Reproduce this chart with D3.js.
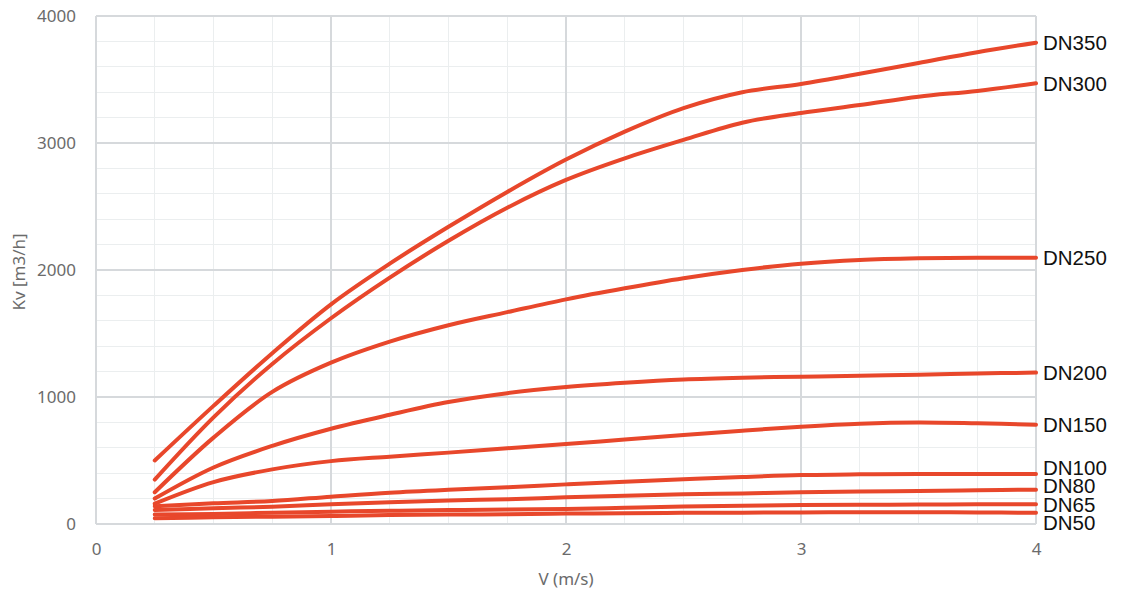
<!DOCTYPE html>
<html>
<head>
<meta charset="utf-8">
<script src="https://cdn.jsdelivr.net/npm/d3@7"></script>
<style>
  html, body { margin: 0; padding: 0; background: #fff; }
  svg { display: block; }
</style>
</head>
<body>
<svg id="chart" width="1121" height="594"></svg>
<script>
// ---- data ----
const velocities = [0.25, 0.5, 0.75, 1, 1.25, 1.5, 1.75, 2, 2.25, 2.5, 2.75, 3, 3.25, 3.5, 3.75, 4];
const seriesNames = ["DN350", "DN300", "DN250", "DN200", "DN150", "DN100", "DN80", "DN65", "DN50"];
const dn350 = [500, 930, 1345, 1730, 2050, 2340, 2615, 2870, 3090, 3275, 3400, 3465, 3545, 3630, 3715, 3790];
const dn300 = [350, 840, 1260, 1620, 1940, 2230, 2490, 2709, 2879, 3024, 3160, 3237, 3299, 3365, 3410, 3470];
const dn250 = [250, 680, 1040, 1270, 1436, 1565, 1668, 1769, 1856, 1935, 2000, 2050, 2079, 2092, 2097, 2097];
const dn200 = [200, 445, 615, 750, 860, 960, 1030, 1078, 1112, 1138, 1152, 1160, 1167, 1176, 1185, 1192];
const dn150 = [160, 330, 430, 495, 530, 562, 596, 630, 665, 700, 735, 766, 790, 800, 793, 782];
const dn100 = [140, 163, 181, 215, 247, 270, 289, 312, 333, 352, 370, 385, 391, 394, 394, 393];
const dn80  = [110, 124, 136, 155, 172, 185, 195, 210, 223, 234, 241, 250, 255, 260, 266, 270];
const dn65  = [75, 79, 89, 97, 104, 110, 114, 118, 127, 137, 144, 150, 152, 153, 155, 155];
const dn50  = [45, 53, 58, 63, 70, 74, 77, 82, 84, 88, 89, 91, 92, 92, 91, 88];
const seriesValues = [dn350, dn300, dn250, dn200, dn150, dn100, dn80, dn65, dn50];
const xTicks = [0, 1, 2, 3, 4];
const yTicks = [0, 1000, 2000, 3000, 4000];
const xTitle = "V (m/s)";
const yTitle = "Kv [m3/h]";

// ---- layout ----
const svg = d3.select("#chart");
const x = d3.scaleLinear().domain([0, 4]).range([96, 1036]);
const y = d3.scaleLinear().domain([0, 4000]).range([524, 16]);
const lineColor = "#E8472B";
const axisFont = "'Noto Sans', 'Open Sans', sans-serif";

// minor grid
const g = svg.append("g");
g.selectAll(".vminor").data(d3.range(0, 4.001, 0.25)).join("line")
  .attr("x1", d => x(d)).attr("x2", d => x(d)).attr("y1", y(0)).attr("y2", y(4000))
  .attr("stroke", "#ebeeef").attr("stroke-width", 1.3).attr("shape-rendering", "crispEdges");
g.selectAll(".hminor").data(d3.range(0, 4001, 200)).join("line")
  .attr("x1", x(0)).attr("x2", x(4)).attr("y1", d => y(d)).attr("y2", d => y(d))
  .attr("stroke", "#ebeeef").attr("stroke-width", 1.3).attr("shape-rendering", "crispEdges");
// major grid
g.selectAll(".vmajor").data(xTicks).join("line")
  .attr("x1", d => x(d)).attr("x2", d => x(d)).attr("y1", y(0)).attr("y2", y(4000))
  .attr("stroke", "#d6d9dc").attr("stroke-width", 1.3).attr("shape-rendering", "crispEdges");
g.selectAll(".hmajor").data(yTicks).join("line")
  .attr("x1", x(0)).attr("x2", x(4)).attr("y1", d => y(d)).attr("y2", d => y(d))
  .attr("stroke", "#d6d9dc").attr("stroke-width", 1.3).attr("shape-rendering", "crispEdges");

// axes (tick labels only)
const xAxis = svg.append("g").attr("transform", `translate(0,${y(0) + 16})`)
  .call(d3.axisBottom(x).tickValues(xTicks).tickSize(0).tickFormat(d3.format("d")));
xAxis.select(".domain").remove();
xAxis.selectAll("text").attr("fill", "#6b6b6b").attr("font-size", 17).attr("font-family", axisFont);

const yAxis = svg.append("g").attr("transform", `translate(${x(0) - 17},0)`)
  .call(d3.axisLeft(y).tickValues(yTicks).tickSize(0).tickFormat(d3.format("d")));
yAxis.select(".domain").remove();
yAxis.selectAll("text").attr("fill", "#6b6b6b").attr("font-size", 17).attr("font-family", axisFont);

// axis titles
svg.append("text").attr("x", (x(0) + x(4)) / 2).attr("y", 585)
  .attr("text-anchor", "middle").attr("fill", "#6b6b6b").attr("font-size", 17)
  .attr("font-family", axisFont).text(xTitle);
svg.append("text").attr("transform", `translate(25,${(y(0) + y(4000)) / 2 + 2}) rotate(-90)`)
  .attr("text-anchor", "middle").attr("fill", "#6b6b6b").attr("font-size", 17)
  .attr("font-family", axisFont).text(yTitle);

// lines
const line = d3.line().x(d => x(d[0])).y(d => y(d[1])).curve(d3.curveCatmullRom.alpha(0.5));
const series = seriesNames.map((name, i) => ({
  name, pts: velocities.map((v, j) => [v, seriesValues[i][j]])
}));
svg.append("g").selectAll("path").data(series).join("path")
  .attr("d", d => line(d.pts))
  .attr("fill", "none").attr("stroke", lineColor).attr("stroke-width", 4)
  .attr("stroke-linejoin", "round").attr("stroke-linecap", "round");

// end labels with simple collision avoidance
const labels = series.map(s => ({ name: s.name, y: y(s.pts[s.pts.length - 1][1]) }));
const gap = 18.5;
for (let iter = 0; iter < 200; iter++) {
  labels.sort((a, b) => a.y - b.y);
  let moved = false;
  for (let i = 1; i < labels.length; i++) {
    const d = labels[i].y - labels[i - 1].y;
    if (d < gap) {
      const push = (gap - d) / 2;
      labels[i].y += push; labels[i - 1].y -= push; moved = true;
    }
  }
  if (!moved) break;
}
svg.append("g").selectAll("text").data(labels).join("text")
  .attr("x", x(4) + 7).attr("y", d => d.y).attr("dy", "0.36em")
  .attr("font-family", "'Liberation Sans', Arial, sans-serif").attr("font-size", 20.5)
  .attr("fill", "#111").text(d => d.name);
</script>
</body>
</html>
